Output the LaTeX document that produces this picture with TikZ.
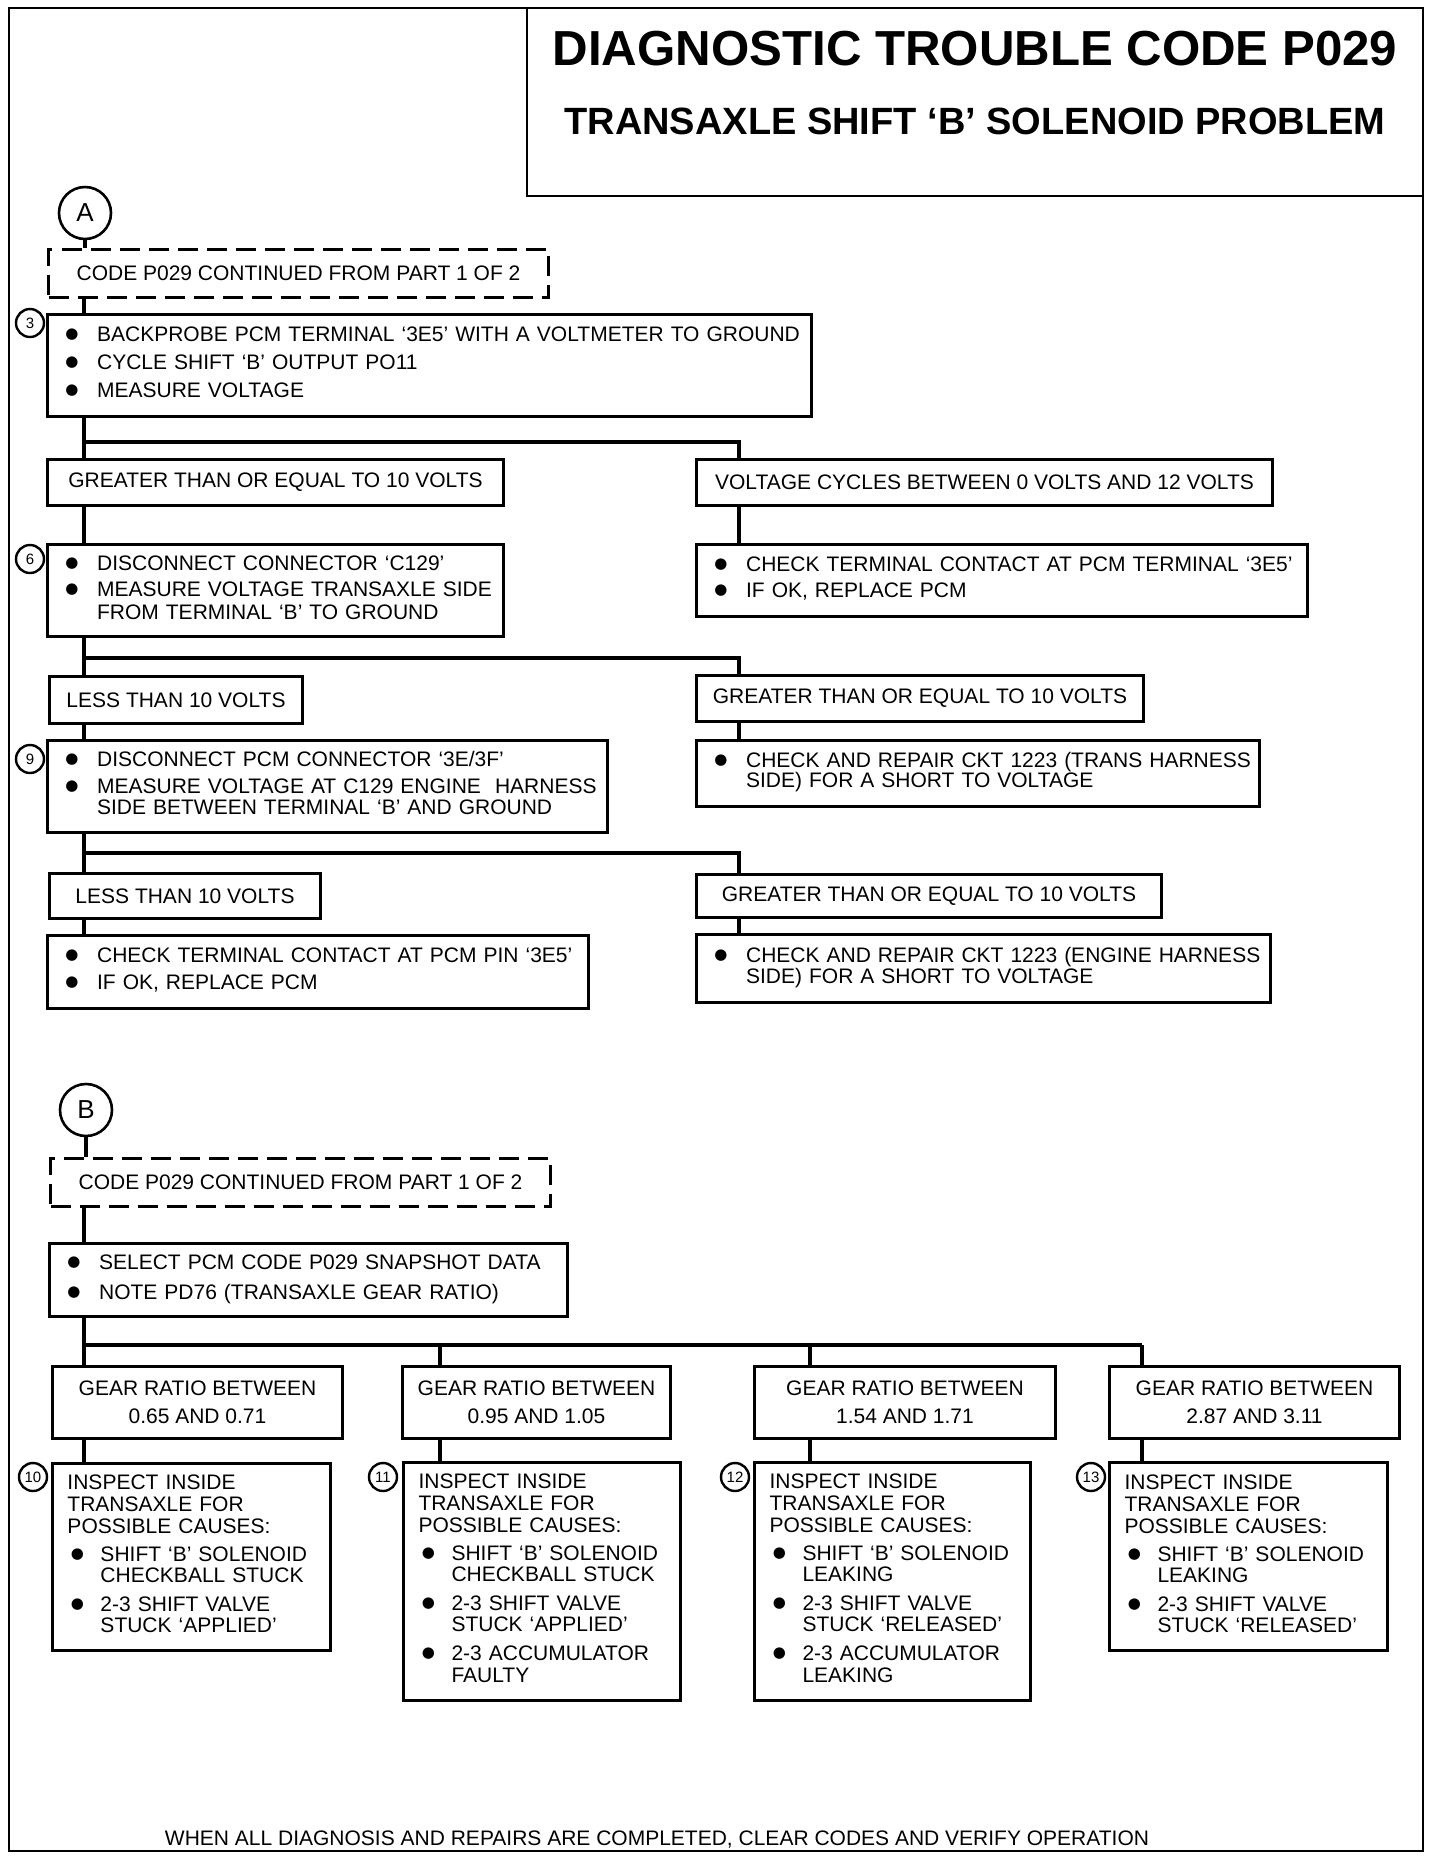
\documentclass[tikz,border=0pt]{standalone}
\usepackage{fontspec}
\setmainfont{Liberation Sans}
\newfontfamily\djv{DejaVu Sans}
\newcommand\bodyfont{\fontsize{10.5pt}{11pt}\selectfont}
\newcommand\bigdot{\raisebox{1.6pt}{\djv\fontsize{7.5pt}{7.5pt}\selectfont ●}}
\newcommand\bu{\makebox[15.4pt][l]{\hspace{-0.45pt}\bigdot}}
\newcommand\bi{\hspace*{15.4pt}}
\newcommand\bub{\makebox[16.5pt][l]{\hspace{1.7pt}\bigdot}}
\newcommand\bib{\hspace*{16.5pt}}
\tikzset{
  frame/.style={draw, line width=1.2pt},
  box/.style={draw, line width=1.5pt, anchor=north west, inner ysep=0pt, font=\bodyfont, fill=white},
  lbox/.style={box, align=left, inner xsep=9.4pt},
  ibox/.style={box, align=left, inner xsep=7.5pt},
  cbox/.style={box, align=center, inner xsep=0pt},
  dbox/.style={cbox, dash pattern=on 10pt off 4.5pt},
  conn/.style={line width=2pt},
  letter/.style={circle, draw, line width=1.3pt, minimum size=26pt, inner sep=0pt, font=\fontsize{13pt}{13pt}\selectfont, fill=white},
  num/.style={circle, draw, line width=1.2pt, minimum size=14pt, inner sep=0pt, font=\fontsize{7.5pt}{7.5pt}\selectfont, fill=white},
  ttl/.style={anchor=base, inner sep=0pt, font=\bfseries},
}
\begin{document}
\begin{tikzpicture}[x=0.5pt,y=-0.5pt]
\useasboundingbox (0,0) rectangle (1440,1860);
\fill[white] (0,0) rectangle (1440,1860);
% outer frame and title box
\draw[frame] (9,8) rectangle (1423,1851);
\draw[line width=1.3pt] (527,8) -- (527,196) -- (1423,196);
\node[ttl, font=\bfseries\fontsize{24.6pt}{26pt}\selectfont] (t1) at (975,65) {DIAGNOSTIC TROUBLE CODE P029};
\node[ttl, font=\bfseries\fontsize{19pt}{21pt}\selectfont] (t2) at (975,134) {TRANSAXLE SHIFT `B' SOLENOID PROBLEM};

% coordinates of trunks
\coordinate (cL) at (84,0);
\coordinate (cR) at (739,0);
\coordinate (jA1) at (84,442);
\coordinate (jA2) at (84,658);
\coordinate (jA3) at (84,853);
\coordinate (jB) at (84,1345);
\coordinate (cB2) at (440,0);
\coordinate (cB3) at (810,0);
\coordinate (cB4) at (1142,0);

% ---------- part A ----------
\node[letter] (A) at (85,213) {A};
\node[dbox, minimum width=250pt, minimum height=24pt] (dA) at (47,248) {CODE P029 CONTINUED FROM PART 1 OF 2};
\node[lbox, minimum height=51pt, text width=363.2pt] (box3) at (46,313) {\begin{tabular}{@{}l@{}}
\bu BACKPROBE PCM TERMINAL `3E5' WITH A VOLTMETER TO GROUND\\[3pt]
\bu CYCLE SHIFT `B' OUTPUT PO11\\[3pt]
\bu MEASURE VOLTAGE\end{tabular}};
\node[cbox, minimum width=228pt, minimum height=23pt] (gte1) at (46,458) {GREATER THAN OR EQUAL TO 10 VOLTS};
\node[cbox, minimum width=288pt, minimum height=23pt] (vc1) at (695,458) {VOLTAGE CYCLES BETWEEN 0 VOLTS AND 12 VOLTS};
\node[lbox, minimum height=46pt, text width=209.2pt] (box6) at (46,543) {\begin{tabular}{@{}l@{}}
\bu DISCONNECT CONNECTOR `C129'\\[2pt]
\bu MEASURE VOLTAGE TRANSAXLE SIDE\\[0.5pt]
\bi FROM TERMINAL `B' TO GROUND\end{tabular}};
\node[lbox, minimum height=36pt, text width=286.7pt] (r6) at (695,543) {\begin{tabular}{@{}l@{}}
\bu CHECK TERMINAL CONTACT AT PCM TERMINAL `3E5'\\[2pt]
\bu IF OK, REPLACE PCM\end{tabular}};
\node[cbox, minimum width=126.5pt, minimum height=23.5pt] (less1) at (48,675) {LESS THAN 10 VOLTS};
\node[cbox, minimum width=223.5pt, minimum height=23pt] (gte2) at (695,674) {GREATER THAN OR EQUAL TO 10 VOLTS};
\node[lbox, minimum height=46pt, text width=261.2pt] (box9) at (46,739) {\begin{tabular}{@{}l@{}}
\bu DISCONNECT PCM CONNECTOR `3E/3F'\\[2.5pt]
\bu MEASURE VOLTAGE AT C129 ENGINE\ \ HARNESS\\[-0.5pt]
\bi SIDE BETWEEN TERMINAL `B' AND GROUND\end{tabular}};
\node[lbox, minimum height=33pt, text width=262.7pt] (r9) at (695,739) {\begin{tabular}{@{}l@{}}
\bu CHECK AND REPAIR CKT 1223 (TRANS HARNESS\\[-1pt]
\bi SIDE) FOR A SHORT TO VOLTAGE\end{tabular}};
\node[cbox, minimum width=135.5pt, minimum height=22.5pt] (less2) at (48,872) {LESS THAN 10 VOLTS};
\node[cbox, minimum width=232.5pt, minimum height=21.5pt] (gte3) at (695,873) {GREATER THAN OR EQUAL TO 10 VOLTS};
\node[lbox, minimum height=36.5pt, text width=251.7pt] (fl) at (46,934) {\begin{tabular}{@{}l@{}}
\bu CHECK TERMINAL CONTACT AT PCM PIN `3E5'\\[2.5pt]
\bu IF OK, REPLACE PCM\end{tabular}};
\node[lbox, minimum height=34pt, text width=268.2pt] (fr) at (695,933) {\begin{tabular}{@{}l@{}}
\bu CHECK AND REPAIR CKT 1223 (ENGINE HARNESS\\[-0.5pt]
\bi SIDE) FOR A SHORT TO VOLTAGE\end{tabular}};
\node[num] (n3) at (30,323) {3};
\node[num] (n6) at (30,559) {6};
\node[num] (n9) at (30,759) {9};

% ---------- part B ----------
\node[letter] (B) at (86,1110) {B};
\node[dbox, minimum width=250pt, minimum height=24pt] (dB) at (49,1157) {CODE P029 CONTINUED FROM PART 1 OF 2};
\node[lbox, minimum height=36.5pt, text width=240.2pt] (sel) at (48,1242) {\begin{tabular}{@{}l@{}}
\bu SELECT PCM CODE P029 SNAPSHOT DATA\\[4pt]
\bu NOTE PD76 (TRANSAXLE GEAR RATIO)\end{tabular}};
\node[cbox, minimum width=145pt, minimum height=36pt] (g1) at (51,1365) {GEAR RATIO BETWEEN\\[3pt]0.65 AND 0.71};
\node[cbox, minimum width=134pt, minimum height=36pt] (g2) at (401,1365) {GEAR RATIO BETWEEN\\[3pt]0.95 AND 1.05};
\node[cbox, minimum width=150.5pt, minimum height=36pt] (g3) at (753,1365) {GEAR RATIO BETWEEN\\[3pt]1.54 AND 1.71};
\node[cbox, minimum width=145pt, minimum height=36pt] (g4) at (1108,1365) {GEAR RATIO BETWEEN\\[3pt]2.87 AND 3.11};
\node[ibox, minimum height=93.5pt, text width=124pt] (b10) at (51,1462) {\begin{tabular}{@{}l@{}}
INSPECT INSIDE\\
TRANSAXLE FOR\\
POSSIBLE CAUSES:\\[3pt]
\bub SHIFT `B' SOLENOID\\[-0.5pt]
\bib CHECKBALL STUCK\\[3.5pt]
\bub 2-3 SHIFT VALVE\\[-0.5pt]
\bib STUCK `APPLIED'\end{tabular}};
\node[ibox, minimum height=119pt, text width=123.5pt] (b11) at (402,1461) {\begin{tabular}{@{}l@{}}
INSPECT INSIDE\\
TRANSAXLE FOR\\
POSSIBLE CAUSES:\\[3pt]
\bub SHIFT `B' SOLENOID\\[-0.5pt]
\bib CHECKBALL STUCK\\[3.5pt]
\bub 2-3 SHIFT VALVE\\[-0.5pt]
\bib STUCK `APPLIED'\\[3.5pt]
\bub 2-3 ACCUMULATOR\\[0pt]
\bib FAULTY\end{tabular}};
\node[ibox, minimum height=119pt, text width=123pt] (b12) at (753,1461) {\begin{tabular}{@{}l@{}}
INSPECT INSIDE\\
TRANSAXLE FOR\\
POSSIBLE CAUSES:\\[3pt]
\bub SHIFT `B' SOLENOID\\[-0.5pt]
\bib LEAKING\\[3.5pt]
\bub 2-3 SHIFT VALVE\\[-0.5pt]
\bib STUCK `RELEASED'\\[3.5pt]
\bub 2-3 ACCUMULATOR\\[0pt]
\bib LEAKING\end{tabular}};
\node[ibox, minimum height=94pt, text width=124pt] (b13) at (1108,1461) {\begin{tabular}{@{}l@{}}
INSPECT INSIDE\\
TRANSAXLE FOR\\
POSSIBLE CAUSES:\\[3pt]
\bub SHIFT `B' SOLENOID\\[-0.5pt]
\bib LEAKING\\[3.5pt]
\bub 2-3 SHIFT VALVE\\[-0.5pt]
\bib STUCK `RELEASED'\end{tabular}};
\node[num] (n10) at (33,1477) {10};
\node[num] (n11) at (383,1477) {11};
\node[num] (n12) at (735,1477) {12};
\node[num] (n13) at (1091,1477) {13};

\node[anchor=base, inner sep=0pt, font=\bodyfont] (foot) at (657,1845) {WHEN ALL DIAGNOSIS AND REPAIRS ARE COMPLETED, CLEAR CODES AND VERIFY OPERATION};

% ---------- connectors ----------
\draw[conn] (A) -- (A |- dA.north);
\draw[conn] (dA.south -| cL) -- (box3.north -| cL);
\draw[conn] (box3.south -| cL) -- (gte1.north -| cL);
\draw[conn] (jA1) -| (vc1.north -| cR);
\draw[conn] (gte1.south -| cL) -- (box6.north -| cL);
\draw[conn] (vc1.south -| cR) -- (r6.north -| cR);
\draw[conn] (box6.south -| cL) -- (less1.north -| cL);
\draw[conn] (jA2) -| (gte2.north -| cR);
\draw[conn] (less1.south -| cL) -- (box9.north -| cL);
\draw[conn] (gte2.south -| cR) -- (r9.north -| cR);
\draw[conn] (box9.south -| cL) -- (less2.north -| cL);
\draw[conn] (jA3) -| (gte3.north -| cR);
\draw[conn] (less2.south -| cL) -- (fl.north -| cL);
\draw[conn] (gte3.south -| cR) -- (fr.north -| cR);

\draw[conn] (B) -- (B |- dB.north);
\draw[conn] (dB.south -| cL) -- (sel.north -| cL);
\draw[conn] (sel.south -| cL) -- (g1.north -| cL);
\draw[conn] (jB) -- (jB -| cB4);
\draw[conn] (jB -| cB2) -- (g2.north -| cB2);
\draw[conn] (jB -| cB3) -- (g3.north -| cB3);
\draw[conn] (jB -| cB4) -- (g4.north -| cB4);
\draw[conn] (g1.south -| cL) -- (b10.north -| cL);
\draw[conn] (g2.south -| cB2) -- (b11.north -| cB2);
\draw[conn] (g3.south -| cB3) -- (b12.north -| cB3);
\draw[conn] (g4.south -| cB4) -- (b13.north -| cB4);
\end{tikzpicture}
\end{document}
